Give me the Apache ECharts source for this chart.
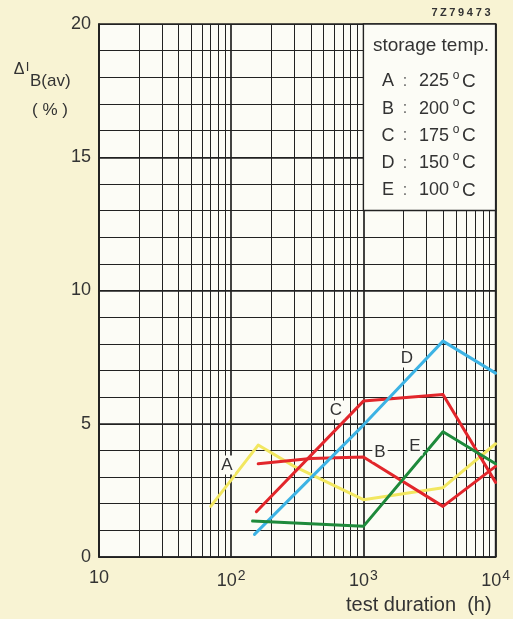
<!DOCTYPE html>
<html>
<head>
<meta charset="utf-8">
<script src="https://cdn.jsdelivr.net/npm/echarts@6/dist/echarts.min.js"></script>
<style>
  html, body { margin: 0; padding: 0; background: #f8f3d3; }
  #chart { width: 513px; height: 619px; }
</style>
</head>
<body>
<div id="chart"></div>
<script>
const FONT = '"Liberation Sans", Arial, Helvetica, sans-serif';
const INK = '#222';

// Δ I_B(av) (%) against test duration (h), one curve per storage temperature
const hoursA  = [70, 160, 300, 1000, 4000, 10000];
const valuesA = [1.9, 4.2, 3.4, 2.15, 2.6, 4.25];
const hoursB  = [160, 400, 1000, 4000, 10000];
const valuesB = [3.5, 3.7, 3.75, 1.9, 3.4];
const hoursC  = [155, 1000, 4000, 10000];
const valuesC = [1.7, 5.85, 6.1, 2.8];
const hoursD  = [150, 1000, 4000, 10000];
const valuesD = [0.85, 4.95, 8.1, 6.9];
const hoursE  = [145, 1000, 4000, 10000];
const valuesE = [1.35, 1.15, 4.7, 3.5];

const curveNames   = ['A', 'B', 'C', 'D', 'E'];
const storageTemps = ['225', '200', '175', '150', '100'];
const yLabelValues = [0, 5, 10, 15, 20];
const heavyRows    = [5, 10, 15];
// log-paper minor rulings inside each decade
const minorHours = [20, 30, 40, 50, 60, 70, 80, 90,
                    200, 300, 400, 500, 600, 700, 800, 900,
                    2000, 3000, 4000, 5000, 6000, 7000, 8000, 9000];

const curveColors = {
  A: '#f2e760',
  B: '#e2262b',
  C: '#e2262b',
  D: '#3db3e4',
  E: '#1e8a3b'
};

const curves = {
  A: [hoursA, valuesA],
  B: [hoursB, valuesB],
  C: [hoursC, valuesC],
  D: [hoursD, valuesD],
  E: [hoursE, valuesE]
};

function pairs(xs, ys) {
  return xs.map((x, i) => [x, ys[i]]);
}

const chart = echarts.init(document.getElementById('chart'), null, { renderer: 'canvas' });

const dataSeries = curveNames.map(name => ({
  name: name,
  type: 'line',
  data: pairs(curves[name][0], curves[name][1]),
  symbol: 'none',
  smooth: false,
  z: 10,
  silent: true,
  lineStyle: { color: curveColors[name], width: 3, cap: 'round', join: 'round' }
}));

// paper rulings and the white panel behind the temperature key
const paperSeries = {
  name: 'paper',
  type: 'line',
  data: [],
  silent: true,
  markLine: {
    z: 1,
    silent: true,
    symbol: 'none',
    animation: false,
    label: { show: false },
    lineStyle: { color: INK, width: 1, type: 'solid' },
    emphasis: { disabled: true },
    data: minorHours.map(h => ({ xAxis: h }))
      .concat(heavyRows.map(v => ({ yAxis: v, lineStyle: { color: INK, width: 1.5, type: 'solid' } })))
  },
  markArea: {
    z: 3,
    silent: true,
    animation: false,
    itemStyle: { color: '#fcfcf6', borderColor: INK, borderWidth: 1.4 },
    emphasis: { disabled: true },
    data: [[{ xAxis: 1000, yAxis: 13 }, { xAxis: 10000, yAxis: 20 }]]
  }
};

// key text
const keyGraphics = [{
  type: 'text', x: 431, y: 46, z: 100,
  style: { text: 'storage temp.', font: '19px ' + FONT, fill: '#333', align: 'center', verticalAlign: 'middle' }
}];
curveNames.forEach((name, i) => {
  const y = 81.5 + i * 27.2;
  keyGraphics.push(
    { type: 'text', x: 388, y: y, z: 100,
      style: { text: name, font: '18px ' + FONT, fill: '#333', align: 'center', verticalAlign: 'middle' } },
    { type: 'text', x: 405, y: y, z: 100,
      style: { text: ':', font: '16px ' + FONT, fill: '#666', align: 'center', verticalAlign: 'middle' } },
    { type: 'text', x: 419, y: y, z: 100,
      style: { text: storageTemps[i], font: '18px ' + FONT, fill: '#333', align: 'left', verticalAlign: 'middle' } },
    { type: 'text', x: 456, y: y - 6, z: 100,
      style: { text: 'o', font: '12px ' + FONT, fill: '#333', align: 'center', verticalAlign: 'middle' } },
    { type: 'text', x: 462, y: y, z: 100,
      style: { text: 'C', font: '19px ' + FONT, fill: '#333', align: 'left', verticalAlign: 'middle' } }
  );
});

// curve letters placed beside their traces
const curveLetterPos = { A: [227, 465], B: [380, 452], C: [336, 410], D: [407, 358], E: [415, 446] };
const letterGraphics = curveNames.map(name => ({
  type: 'text', x: curveLetterPos[name][0], y: curveLetterPos[name][1], z: 20,
  style: {
    text: name, font: '17px ' + FONT, fill: '#333', align: 'center', verticalAlign: 'middle',
    backgroundColor: '#fcfcf6', padding: [1, 2]
  }
}));

// drawing number, spaced character by character
const drawingNo = '7Z79473';
const drawingGraphics = drawingNo.split('').map((ch, i) => ({
  type: 'text', x: 434.5 + i * 8.85, y: 13, z: 100,
  style: { text: ch, font: 'bold 11px ' + FONT, fill: '#333', align: 'center', verticalAlign: 'middle' }
}));

// quantity name of the vertical axis
const yNameGraphics = [
  { type: 'text', x: 19, y: 70, z: 100,
    style: { text: 'Δ', font: '16px ' + FONT, fill: '#333', align: 'center', verticalAlign: 'middle' } },
  { type: 'text', x: 27.5, y: 67, z: 100,
    style: { text: 'I', font: '13px ' + FONT, fill: '#333', align: 'center', verticalAlign: 'middle' } },
  { type: 'text', x: 30, y: 81, z: 100,
    style: { text: 'B(av)', font: '17px ' + FONT, fill: '#333', align: 'left', verticalAlign: 'middle' } },
  { type: 'text', x: 50, y: 110, z: 100,
    style: { text: '( % )', font: '17px ' + FONT, fill: '#333', align: 'center', verticalAlign: 'middle' } }
];

const option = {
  animation: false,
  backgroundColor: '#f8f3d3',
  textStyle: { fontFamily: FONT },
  grid: {
    left: 99, right: 16, top: 24, bottom: 62,
    show: true,
    backgroundColor: '#fcfcf6',
    borderColor: INK,
    borderWidth: 1.6
  },
  xAxis: {
    type: 'log',
    logBase: 10,
    min: 10,
    max: 10000,
    splitNumber: 3,
    name: 'test duration  (h)',
    nameLocation: 'end',
    nameGap: 0,
    nameTextStyle: {
      fontSize: 20, color: '#333', fontFamily: FONT,
      align: 'right', verticalAlign: 'top', padding: [38, 4, 0, 0]
    },
    axisLine: { show: true, lineStyle: { color: INK, width: 1.6 } },
    axisTick: { show: false },
    axisLabel: {
      show: true,
      margin: 12,
      color: '#333',
      fontSize: 18,
      fontFamily: FONT,
      formatter: v => {
        const p = Math.round(Math.log10(v));
        return p === 1 ? '10' : '10{e|' + p + '}';
      },
      rich: {
        e: { fontSize: 14, fontFamily: FONT, color: '#333', verticalAlign: 'top', padding: [0, 0, 10, 1] }
      }
    },
    splitLine: { show: true, lineStyle: { color: INK, width: 1.7 } },
    minorTick: { show: false },
    minorSplitLine: { show: false }
  },
  yAxis: {
    type: 'value',
    min: 0,
    max: 20,
    interval: 1,
    axisLine: { show: true, lineStyle: { color: INK, width: 1.6 } },
    axisTick: { show: false },
    axisLabel: {
      interval: 0,
      margin: 8,
      color: '#333',
      fontSize: 18,
      fontFamily: FONT,
      formatter: v => (yLabelValues.indexOf(v) >= 0 ? String(v) : '')
    },
    splitLine: { show: true, lineStyle: { color: INK, width: 1 } }
  },
  graphic: [].concat(keyGraphics, letterGraphics, drawingGraphics, yNameGraphics),
  series: [paperSeries].concat(dataSeries)
};

chart.setOption(option);
</script>
</body>
</html>
